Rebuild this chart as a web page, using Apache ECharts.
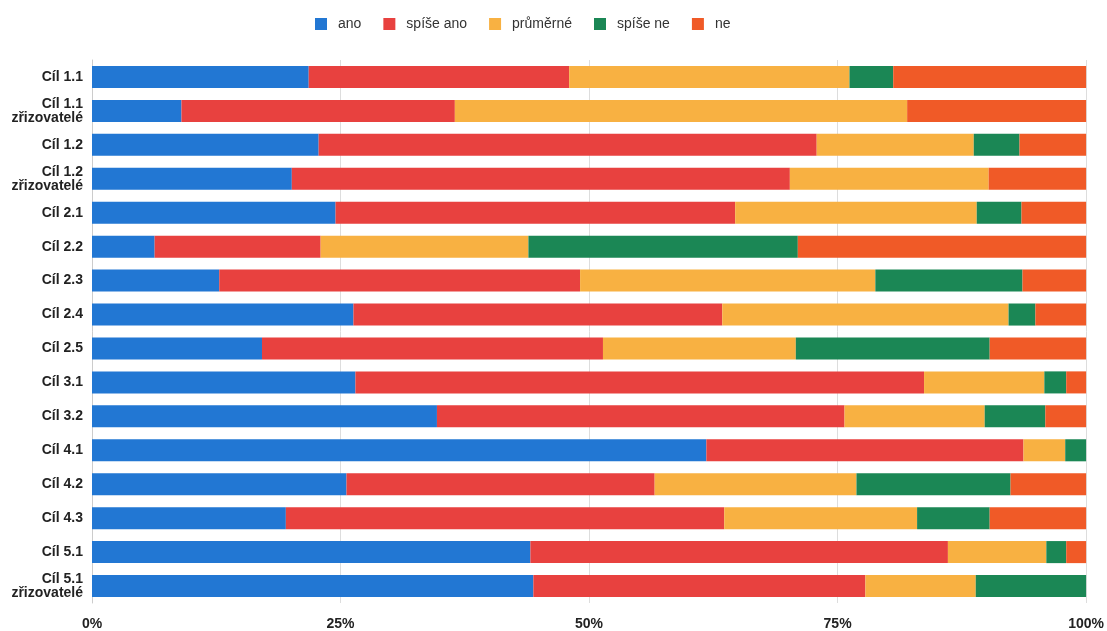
<!DOCTYPE html>
<html><head><meta charset="utf-8">
<script src="https://cdn.jsdelivr.net/npm/echarts@6/dist/echarts.min.js"></script>
<style>html,body{margin:0;padding:0;background:#fff}#c{width:1107px;height:631px}</style>
</head><body><div id="c"></div>
<script>
const categories = ["Cíl 1.1","Cíl 1.1\nzřizovatelé","Cíl 1.2","Cíl 1.2\nzřizovatelé","Cíl 2.1","Cíl 2.2","Cíl 2.3","Cíl 2.4","Cíl 2.5","Cíl 3.1","Cíl 3.2","Cíl 4.1","Cíl 4.2","Cíl 4.3","Cíl 5.1","Cíl 5.1\nzřizovatelé"];
const seriesNames = ["ano","spíše ano","průměrné","spíše ne","ne"];
const ano      = [21.8, 9.0, 22.8, 20.1, 24.5, 6.3, 12.8, 26.3, 17.1, 26.5, 34.7, 61.8, 25.6, 19.5, 44.1, 44.4];
const spiseAno = [26.2, 27.5, 50.1, 50.1, 40.2, 16.7, 36.3, 37.1, 34.3, 57.2, 41.0, 31.9, 31.0, 44.1, 42.0, 33.4];
const prumerne = [28.2, 45.5, 15.8, 20.0, 24.3, 20.9, 29.7, 28.8, 19.4, 12.1, 14.1, 4.2, 20.3, 19.4, 9.9, 11.1];
const spiseNe  = [4.4, 0, 4.6, 0, 4.5, 27.1, 14.8, 2.7, 19.5, 2.2, 6.1, 2.1, 15.5, 7.3, 2.0, 11.1];
const ne       = [19.4, 18.0, 6.7, 9.8, 6.5, 29.0, 6.4, 5.1, 9.7, 2.0, 4.1, 0, 7.6, 9.7, 2.0, 0];
const xTicks = ["0%","25%","50%","75%","100%"];
const colors = ["#2277d3","#e8413f","#f8b142","#1b8755","#f05a27"];
const values = [ano, spiseAno, prumerne, spiseNe, ne];

const chart = echarts.init(document.getElementById('c'));
chart.setOption({
  animation:false,
  color: colors,
  textStyle:{fontFamily:'Liberation Sans, Arial, sans-serif'},
  legend:{top:12, left:310, itemWidth:12, itemHeight:12, itemGap:22,
    icon:'rect', textStyle:{fontSize:14, color:'#333', padding:[0,0,0,6]}, data:seriesNames},
  grid:{left:92, right:18, top:60, bottom:25, containLabel:false},
  xAxis:{type:'value', min:0, max:100, interval:25,
    axisLabel:{formatter:function(v){return xTicks[Math.round(v/25)];}, fontSize:14, fontWeight:'bold', color:'#222', margin:14},
    splitLine:{show:true, lineStyle:{color:'#dddddd'}},
    axisLine:{show:false}, axisTick:{show:false}},
  yAxis:{type:'category', data:categories, inverse:true,
    axisLabel:{fontSize:14, fontWeight:'bold', color:'#222', lineHeight:14, margin:9},
    axisLine:{show:true, lineStyle:{color:'#cccccc'}},
    axisTick:{show:false}},
  series: seriesNames.map((n,i)=>({name:n, type:'bar', stack:'all', barWidth:'65%', data:values[i]}))
});
</script></body></html>
